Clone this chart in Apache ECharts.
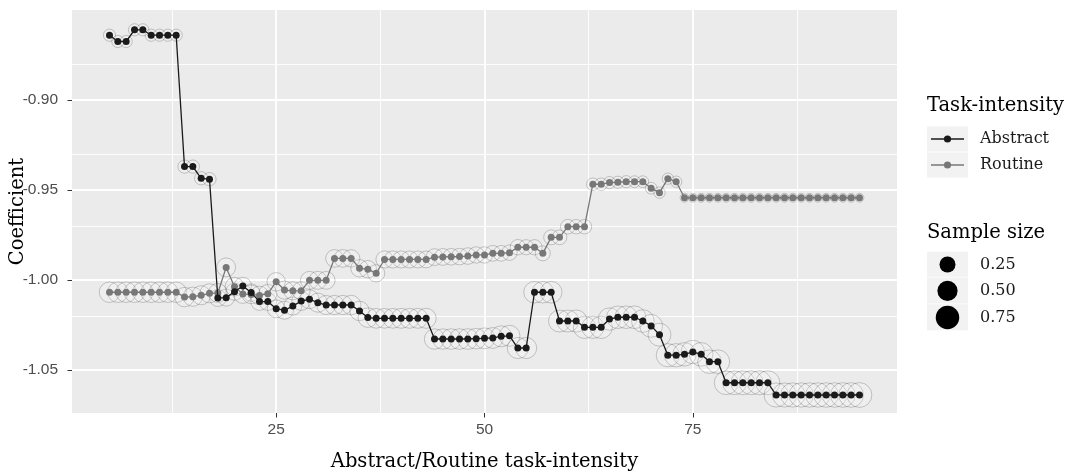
<!DOCTYPE html>
<html><head><meta charset="utf-8">
<script src="https://cdn.jsdelivr.net/npm/echarts@6/dist/echarts.min.js"></script>
<style>html,body{margin:0;padding:0;background:#fff}#c{width:1066px;height:472px}</style>
</head><body><div id="c"></div>
<script>
// thresholds (x)
const thresholds = [
  5,6,7,8,9,10,11,12,13,14,
  15,16,17,18,19,20,21,22,23,24,
  25,26,27,28,29,30,31,32,33,34,
  35,36,37,38,39,40,41,42,43,44,
  45,46,47,48,49,50,51,52,53,54,
  55,56,57,58,59,60,61,62,63,64,
  65,66,67,68,69,70,71,72,73,74,
  75,76,77,78,79,80,81,82,83,84,
  85,86,87,88,89,90,91,92,93,94,
  95];
const abstractCoef = [
  -0.8640,-0.8675,-0.8675,-0.8610,-0.8610,-0.8640,-0.8640,-0.8640,-0.8640,-0.9370,
  -0.9370,-0.9435,-0.9440,-1.0100,-1.0098,-1.0065,-1.0033,-1.0070,-1.0120,-1.0120,
  -1.0160,-1.0168,-1.0145,-1.0117,-1.0107,-1.0126,-1.0139,-1.0139,-1.0139,-1.0139,
  -1.0172,-1.0209,-1.0213,-1.0213,-1.0213,-1.0213,-1.0213,-1.0213,-1.0213,-1.0328,
  -1.0328,-1.0328,-1.0328,-1.0328,-1.0326,-1.0324,-1.0322,-1.0313,-1.0310,-1.0378,
  -1.0378,-1.0068,-1.0068,-1.0068,-1.0228,-1.0228,-1.0228,-1.0263,-1.0263,-1.0263,
  -1.0217,-1.0207,-1.0207,-1.0207,-1.0228,-1.0255,-1.0304,-1.0418,-1.0418,-1.0413,
  -1.0400,-1.0413,-1.0454,-1.0454,-1.0571,-1.0571,-1.0571,-1.0571,-1.0571,-1.0571,
  -1.0639,-1.0639,-1.0639,-1.0639,-1.0639,-1.0639,-1.0639,-1.0639,-1.0639,-1.0639,
  -1.0639];
const routineCoef = [
  -1.0068,-1.0068,-1.0068,-1.0068,-1.0068,-1.0068,-1.0068,-1.0068,-1.0068,-1.0095,
  -1.0093,-1.0085,-1.0074,-1.0072,-0.9930,-1.0037,-1.0078,-1.0080,-1.0086,-1.0076,
  -1.0010,-1.0056,-1.0060,-1.0060,-1.0002,-1.0002,-1.0002,-0.9880,-0.9880,-0.9880,
  -0.9935,-0.9940,-0.9963,-0.9886,-0.9886,-0.9886,-0.9886,-0.9886,-0.9886,-0.9873,
  -0.9872,-0.9871,-0.9870,-0.9867,-0.9861,-0.9861,-0.9852,-0.9852,-0.9848,-0.9818,
  -0.9818,-0.9818,-0.9852,-0.9763,-0.9763,-0.9704,-0.9704,-0.9704,-0.9468,-0.9468,
  -0.9459,-0.9457,-0.9454,-0.9454,-0.9454,-0.9490,-0.9515,-0.9437,-0.9454,-0.9543,
  -0.9543,-0.9543,-0.9543,-0.9543,-0.9543,-0.9543,-0.9543,-0.9543,-0.9543,-0.9543,
  -0.9543,-0.9543,-0.9543,-0.9543,-0.9543,-0.9543,-0.9543,-0.9543,-0.9543,-0.9543,
  -0.9543];
const abstractSample = [
  0.07,0.07,0.07,0.07,0.07,0.07,0.07,0.07,0.07,0.10,
  0.10,0.10,0.10,0.25,0.25,0.26,0.27,0.27,0.28,0.28,
  0.29,0.30,0.30,0.34,0.35,0.36,0.36,0.37,0.37,0.38,
  0.38,0.39,0.40,0.40,0.40,0.41,0.41,0.41,0.42,0.44,
  0.44,0.45,0.45,0.46,0.46,0.47,0.47,0.48,0.48,0.49,
  0.49,0.52,0.52,0.53,0.55,0.55,0.56,0.57,0.57,0.58,
  0.58,0.59,0.59,0.60,0.60,0.61,0.62,0.64,0.65,0.66,
  0.66,0.67,0.67,0.68,0.69,0.69,0.70,0.70,0.71,0.71,
  0.72,0.72,0.73,0.73,0.74,0.74,0.75,0.75,0.76,0.76,
  0.77];
const routineSample = [
  0.45,0.45,0.45,0.45,0.45,0.45,0.45,0.45,0.45,0.38,
  0.37,0.36,0.36,0.35,0.35,0.34,0.34,0.33,0.33,0.32,
  0.32,0.31,0.31,0.30,0.30,0.30,0.29,0.28,0.28,0.27,
  0.27,0.27,0.26,0.26,0.26,0.25,0.25,0.25,0.24,0.24,
  0.24,0.23,0.23,0.23,0.22,0.22,0.19,0.19,0.18,0.18,
  0.17,0.17,0.16,0.16,0.15,0.15,0.14,0.14,0.08,0.08,
  0.07,0.07,0.07,0.06,0.06,0.06,0.05,0.05,0.05,0.01,
  0.01,0.01,0.01,0.01,0.01,0.01,0.01,0.01,0.01,0.01,
  0.01,0.01,0.01,0.01,0.01,0.01,0.01,0.01,0.01,0.01,
  0.01];
const xTicks = [25, 50, 75];
const xMinorTicks = [12.5, 37.5, 62.5, 87.5];
const yTicks = [-1.05, -1.00, -0.95, -0.90];
const yMinorTicks = [-1.025, -0.975, -0.925, -0.875];
const sizeBreaks = [0.25, 0.50, 0.75];
const seriesNames = ['Abstract', 'Routine'];

const COL_A = '#1a1a1a', COL_R = '#777777';
const SERIF = '"DejaVu Serif", serif';
const SANS = '"Liberation Sans", Arial, sans-serif';
function haloSize(v) { return 6.75 + 20.5 * Math.sqrt(v); }

const G = { left: 72, top: 10, width: 825, height: 403 };

const chart = echarts.init(document.getElementById('c'), null, { renderer: 'canvas' });

function gridLines() {
  const d = [];
  xMinorTicks.forEach(v => d.push({ xAxis: v, lineStyle: { color: '#fff', width: 0.9, type: 'solid' } }));
  yMinorTicks.forEach(v => d.push({ yAxis: v, lineStyle: { color: '#fff', width: 0.9, type: 'solid' } }));
  xTicks.forEach(v => d.push({ xAxis: v, lineStyle: { color: '#fff', width: 1.8, type: 'solid' } }));
  yTicks.forEach(v => d.push({ yAxis: v, lineStyle: { color: '#fff', width: 1.8, type: 'solid' } }));
  return d;
}
const ptsA = thresholds.map((x, i) => [x, abstractCoef[i], abstractSample[i]]);
const ptsR = thresholds.map((x, i) => [x, routineCoef[i], routineSample[i]]);

const haloStyle = { color: 'rgba(255,255,255,0.18)', borderColor: 'rgba(0,0,0,0.3)', borderWidth: 0.8 };

// legend graphics
const LX = 927, KW = 41;
const TF = '19.5px ' + SERIF, LF = '16px ' + SERIF;
const graphics = [
  { type: 'text', x: 18, y: G.top + G.height / 2, rotation: Math.PI / 2,
    style: { text: 'Coefficient', font: TF, fill: '#000', align: 'center', verticalAlign: 'middle' } },
  { type: 'text', x: G.left + G.width / 2, y: 462,
    style: { text: 'Abstract/Routine task-intensity', font: TF, fill: '#000', align: 'center', verticalAlign: 'middle' } },
  { type: 'text', x: LX, y: 106, style: { text: 'Task-intensity', font: TF, fill: '#000', align: 'left', verticalAlign: 'middle' } },
  { type: 'text', x: LX, y: 233, style: { text: 'Sample size', font: TF, fill: '#000', align: 'left', verticalAlign: 'middle' } }
];
const keyYs = [139, 165];
[COL_A, COL_R].forEach((c, k) => {
  const cy = keyYs[k];
  graphics.push({ type: 'rect', shape: { x: LX, y: cy - 12.5, width: KW, height: 25 }, style: { fill: '#f2f2f2' } });
  graphics.push({ type: 'line', shape: { x1: LX + 4, y1: cy, x2: LX + KW - 4, y2: cy }, style: { stroke: c, lineWidth: 1.3 } });
  graphics.push({ type: 'circle', shape: { cx: LX + KW / 2, cy: cy, r: 3.6 }, style: { fill: c } });
  graphics.push({ type: 'text', x: 980, y: cy, style: { text: seriesNames[k], font: LF, fill: '#1a1a1a', align: 'left', verticalAlign: 'middle' } });
});
const sizeYs = [264.5, 290.8, 317.5];
const sizeH = [25.5, 26.5, 26.5];
sizeBreaks.forEach((b, k) => {
  const cy = sizeYs[k];
  graphics.push({ type: 'rect', shape: { x: LX, y: cy - sizeH[k] / 2, width: KW, height: sizeH[k] - 0.6 }, style: { fill: '#f2f2f2' } });
  graphics.push({ type: 'circle', shape: { cx: LX + KW / 2, cy: cy, r: haloSize(b) / 2 - 0.5 }, style: { fill: '#000' } });
  graphics.push({ type: 'text', x: 980, y: cy, style: { text: b.toFixed(2), font: LF, fill: '#1a1a1a', align: 'left', verticalAlign: 'middle' } });
});

chart.setOption({
  animation: false,
  backgroundColor: '#ffffff',
  grid: { left: G.left, top: G.top, width: G.width, height: G.height, show: true, backgroundColor: '#ebebeb', borderWidth: 0, containLabel: false },
  xAxis: {
    type: 'value', min: 0.5, max: 99.5,
    axisLine: { show: false },
    axisTick: { show: true, customValues: xTicks, length: 4.5, lineStyle: { color: '#333', width: 1 } },
    axisLabel: { customValues: xTicks, color: '#4d4d4d', fontSize: 15.5, fontFamily: SANS, margin: 9 },
    splitLine: { show: false }
  },
  yAxis: {
    type: 'value', min: -1.0739, max: -0.85,
    axisLine: { show: false },
    axisTick: { show: true, customValues: yTicks, length: 4.5, lineStyle: { color: '#333', width: 1 } },
    axisLabel: { customValues: yTicks, color: '#4d4d4d', fontSize: 15.5, fontFamily: SANS, margin: 14,
      formatter: v => Number(v).toFixed(2) },
    splitLine: { show: false }
  },
  graphic: graphics,
  series: [
    { type: 'scatter', data: [], silent: true, z: 1,
      markLine: { silent: true, z: 1, symbol: ['none', 'none'], label: { show: false }, animation: false, data: gridLines() } },
    { type: 'scatter', name: 'haloA', data: ptsA, z: 2, symbol: 'circle', symbolSize: d => haloSize(d[2]), itemStyle: haloStyle, silent: true },
    { type: 'scatter', name: 'haloR', data: ptsR, z: 2, symbol: 'circle', symbolSize: d => haloSize(d[2]), itemStyle: haloStyle, silent: true },
    { type: 'line', name: 'Routine', data: ptsR, z: 3, symbol: 'circle', symbolSize: 7, showSymbol: true,
      itemStyle: { color: COL_R, borderWidth: 0 }, lineStyle: { color: COL_R, width: 1.3 } },
    { type: 'line', name: 'Abstract', data: ptsA, z: 4, symbol: 'circle', symbolSize: 7, showSymbol: true,
      itemStyle: { color: COL_A, borderWidth: 0 }, lineStyle: { color: COL_A, width: 1.3 } }
  ]
});
</script></body></html>
